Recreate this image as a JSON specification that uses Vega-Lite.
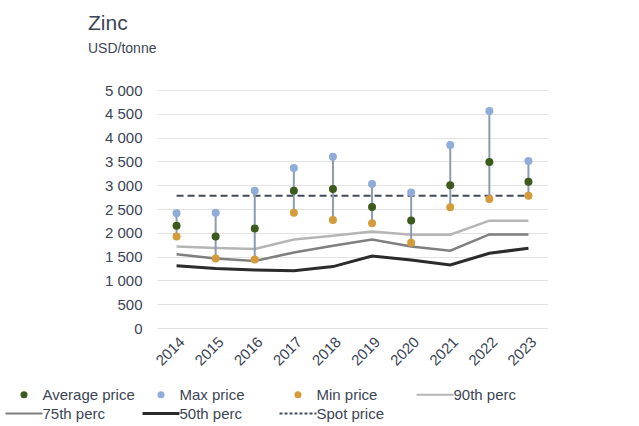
{
  "$schema": "https://vega.github.io/schema/vega-lite/v6.json",
  "width": 391,
  "height": 238,
  "autosize": "none",
  "padding": {"left": 157, "top": 90, "right": 91, "bottom": 98},
  "background": "white",
  "title": {
    "text": "Zinc",
    "subtitle": "USD/tonne",
    "anchor": "start",
    "frame": "group",
    "dx": -69,
    "offset": 27,
    "font": "Liberation Sans",
    "fontSize": 21,
    "fontWeight": "normal",
    "color": "#3b4556",
    "subtitleFont": "Liberation Sans",
    "subtitleFontSize": 14,
    "subtitleColor": "#3b4556",
    "subtitlePadding": 8
  },
  "config": {"view": {"stroke": null}, "font": "Liberation Sans"},
  "data": {
    "values": [
      {"year": "2014", "avg": 2150, "max": 2410, "min": 1920, "p90": 1710, "p75": 1550, "p50": 1310, "spot": 2780},
      {"year": "2015", "avg": 1920, "max": 2420, "min": 1460, "p90": 1680, "p75": 1460, "p50": 1250, "spot": 2780},
      {"year": "2016", "avg": 2090, "max": 2885, "min": 1440, "p90": 1660, "p75": 1410, "p50": 1220, "spot": 2780},
      {"year": "2017", "avg": 2885, "max": 3360, "min": 2420, "p90": 1860, "p75": 1585, "p50": 1205, "spot": 2780},
      {"year": "2018", "avg": 2920, "max": 3600, "min": 2270, "p90": 1940, "p75": 1730, "p50": 1290, "spot": 2780},
      {"year": "2019", "avg": 2540, "max": 3025, "min": 2200, "p90": 2025, "p75": 1860, "p50": 1510, "spot": 2780},
      {"year": "2020", "avg": 2260, "max": 2845, "min": 1790, "p90": 1960, "p75": 1710, "p50": 1430, "spot": 2780},
      {"year": "2021", "avg": 3000, "max": 3845, "min": 2535, "p90": 1960, "p75": 1625, "p50": 1325, "spot": 2780},
      {"year": "2022", "avg": 3490, "max": 4560, "min": 2710, "p90": 2255, "p75": 1965, "p50": 1570, "spot": 2780},
      {"year": "2023", "avg": 3070, "max": 3510, "min": 2780, "p90": 2255, "p75": 1965, "p50": 1675, "spot": 2780}
    ]
  },
  "encoding": {
    "x": {
      "field": "year",
      "type": "ordinal",
      "scale": {"type": "point", "padding": 0.5},
      "axis": {
        "title": null,
        "labelAngle": -45,
        "domain": false,
        "ticks": false,
        "grid": false,
        "labelPadding": 6,
        "labelFont": "Liberation Sans",
        "labelFontSize": 15,
        "labelColor": "#3b4556"
      }
    },
    "y": {
      "field": "value",
      "type": "quantitative",
      "scale": {"domain": [0, 5000], "nice": false},
      "axis": {
        "title": null,
        "values": [0, 500, 1000, 1500, 2000, 2500, 3000, 3500, 4000, 4500, 5000],
        "tickCount": 11,
        "labelOverlap": false,
        "labelExpr": "replace(format(datum.value, ','), ',', ' ')",
        "domain": false,
        "ticks": false,
        "labelPadding": 15,
        "gridColor": "#e3e3e3",
        "labelFont": "Liberation Sans",
        "labelFontSize": 15,
        "labelColor": "#3b4556"
      }
    }
  },
  "layer": [
    {
      "transform": [{"fold": ["p90", "p75"], "as": ["key", "value"]}],
      "mark": {"type": "line", "strokeWidth": 2.5},
      "encoding": {
        "color": {
          "field": "key",
          "type": "nominal",
          "scale": {
            "domain": ["avg", "max", "min", "p90", "p75", "p50", "spot"],
            "range": ["#3b5a1c", "#8fadd8", "#d39b3a", "#b5b5b5", "#7f7f7f", "#2b2b2b", "#404a5c"]
          },
          "legend": {
            "orient": "none",
            "legendX": -152,
            "legendY": 297,
            "direction": "horizontal",
            "columns": 4,
            "gridAlign": "all",
            "columnPadding": 1,
            "rowPadding": 3,
            "symbolSize": 1369,
            "symbolOffset": 11.5,
            "labelOffset": 11,
            "labelFont": "Liberation Sans",
            "labelFontSize": 15,
            "labelColor": "#3b4556",
            "title": null,
            "labelExpr": "{'avg': 'Average price', 'max': 'Max price', 'min': 'Min price', 'p90': '90th perc', 'p75': '75th perc', 'p50': '50th perc', 'spot': 'Spot price'}[datum.value]",
            "encode": {
              "symbols": {
                "update": {
                  "shape": {"signal": "indexof(['avg','max','min'], datum.value) >= 0 ? 'circle' : 'stroke'"},
                  "size": {"signal": "indexof(['avg','max','min'], datum.value) >= 0 ? 50 : 1369"},
                  "strokeWidth": {"signal": "indexof(['avg','max','min'], datum.value) >= 0 ? 0 : (datum.value == 'p50' ? 3 : 2)"},
                  "strokeDash": {"signal": "datum.value == 'spot' ? [3, 2] : [1, 0]"},
                  "stroke": {"signal": "scale('color', datum.value)"},
                  "fill": {"signal": "scale('color', datum.value)"},
                  "opacity": {"value": 1}
                }
              }
            }
          }
        }
      }
    },
    {
      "transform": [{"fold": ["p50"], "as": ["key", "value"]}],
      "mark": {"type": "line", "strokeWidth": 3},
      "encoding": {
        "color": {"field": "key", "type": "nominal"}
      }
    },
    {
      "transform": [{"fold": ["spot"], "as": ["key", "value"]}],
      "mark": {"type": "line", "strokeWidth": 2, "strokeDash": [7, 4]},
      "encoding": {
        "color": {"field": "key", "type": "nominal"}
      }
    },
    {
      "mark": {"type": "rule", "color": "#8c9cb0", "strokeWidth": 2},
      "encoding": {
        "y": {"field": "min", "type": "quantitative"},
        "y2": {"field": "max"}
      }
    },
    {
      "transform": [{"fold": ["avg", "max", "min"], "as": ["key", "value"]}],
      "mark": {"type": "point", "filled": true, "opacity": 1, "size": 64},
      "encoding": {
        "color": {"field": "key", "type": "nominal"}
      }
    }
  ]
}
